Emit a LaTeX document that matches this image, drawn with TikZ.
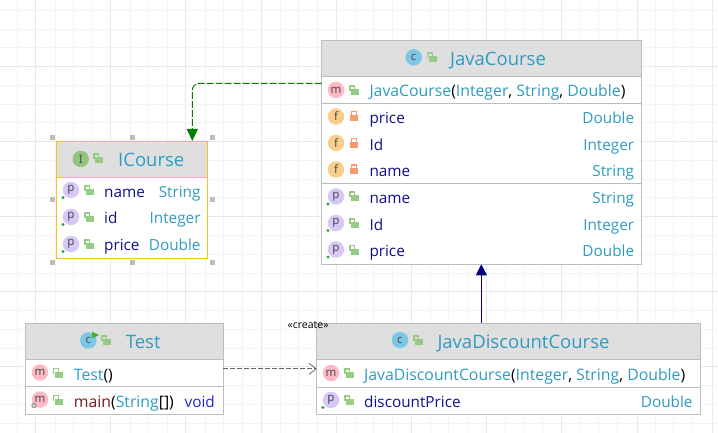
\documentclass[tikz,border=0pt]{standalone}
\usepackage{fontspec}
\setmainfont{Open Sans}
\newfontfamily\iconfont{Noto Sans}
\usetikzlibrary{arrows.meta}

\definecolor{gridmajor}{HTML}{E8E8E8}
\definecolor{gridminor}{HTML}{F4F4F4}
\definecolor{headgray}{HTML}{DFDFDF}
\definecolor{boxgray}{HTML}{BDBDBD}
\definecolor{boxyellow}{HTML}{F5C518}
\definecolor{typeblue}{HTML}{2E9BC2}
\definecolor{fieldnavy}{HTML}{10108C}
\definecolor{mainred}{HTML}{7A1A1A}
\definecolor{voidblue}{HTML}{2222DD}
\definecolor{ballm}{HTML}{FFB8C6}
\definecolor{ballf}{HTML}{F9CE8A}
\definecolor{ballp}{HTML}{D8C8F8}
\definecolor{ballc}{HTML}{7CC8E4}
\definecolor{balli}{HTML}{93C47D}
\definecolor{lockgreen}{HTML}{95CB82}
\definecolor{lockorange}{HTML}{F79B6E}
\definecolor{dotgreen}{HTML}{2E9E2E}
\definecolor{implgreen}{HTML}{008000}
\definecolor{extnavy}{HTML}{000080}
\definecolor{usegray}{HTML}{666666}

\tikzset{
    classbox/.style={draw=boxgray, line width=1pt, fill=white, anchor=north west, inner sep=0pt, outer sep=0pt},
    iconball/.style={circle, minimum size=16.5pt, inner sep=0pt, text=black!70, font=\iconfont\fontsize{11.5}{11.5}\selectfont},
    headtitle/.style={anchor=base west, inner sep=0pt, yshift=-1.2pt, text=typeblue, font=\fontsize{18.5}{20}\selectfont},
    rowleft/.style={anchor=base west, inner sep=0pt, yshift=-0.8pt, text=fieldnavy, font=\fontsize{15.3}{17}\selectfont},
    rowright/.style={anchor=base east, inner sep=0pt, yshift=-0.8pt, text=typeblue, font=\fontsize{15.3}{17}\selectfont},
    rowcall/.style={rowleft, font=\fontsize{15.8}{17}\selectfont},
    handlebox/.style={fill=boxgray, draw=none, minimum size=5pt, inner sep=0pt}
}

\newcommand{\openlock}[2]{
    \draw [lockgreen, line width=1.2pt] (#1-4, #2+1) -- (#1-4, #2-4) -- (#1+0.5, #2-4) -- (#1+0.5, #2);
    \fill [lockgreen] (#1-3, #2-1) rectangle (#1+5, #2+5);
}
\newcommand{\closedlock}[2]{
    \draw [lockorange, line width=1.2pt] (#1-2.2, #2-1) -- (#1-2.2, #2-4.5) -- (#1+2.2, #2-4.5) -- (#1+2.2, #2-1);
    \fill [lockorange] (#1-4, #2-1) rectangle (#1+4, #2+5);
}
\newcommand{\propdot}[2]{
    \fill [dotgreen] (#1-8, #2+7.5) circle (1.6pt);
}

\begin{document}
\begin{tikzpicture}[x=1pt, y=-1pt]
    \useasboundingbox (0, 0) rectangle (718, 433);
    \fill [white] (0, 0) rectangle (718, 433);
    % Grid
    \foreach \gx in {-1.5, 17.2, 54.7, 73.5, 92.2, 129.7, 148.5, 167.2, 204.7, 223.5, 242.2, 279.7, 298.5, 317.2, 354.7, 373.5, 392.2, 429.7, 448.5, 467.2, 504.7, 523.5, 542.2, 579.7, 598.5, 617.2, 654.7, 673.5, 692.2}
        \draw [gridminor] (\gx, 0) -- (\gx, 433);
    \foreach \gy in {10.2, 29, 47.7, 85.2, 104, 122.7, 160.2, 179, 197.7, 235.2, 254, 272.7, 310.2, 329, 347.7, 385.2, 404, 422.7}
        \draw [gridminor] (0, \gy) -- (718, \gy);
    \foreach \gx in {35.5, 110.5, 185.5, 261, 336, 411.5, 486.5, 561.5, 637, 712}
        \draw [gridmajor] (\gx, 0) -- (\gx, 433);
    \foreach \gy in {66.5, 141.5, 216.5, 291.5, 366.5}
        \draw [gridmajor] (0, \gy) -- (718, \gy);

    % Selection handles of ICourse
    \foreach \hname/\hx/\hy in {ha/52.5/137.5, hb/132/137.5, hc/212.5/137.5, hd/52.5/200, he/212.5/200, hf/52.5/262, hg/132/262, hh/212.5/262}
        \node [handlebox] (\hname) at (\hx, \hy) {};

    % ICourse
    \node [classbox, draw=boxyellow, minimum width=150.6pt, minimum height=117pt] (icourse) at (56.7, 141.3) {};
    \fill [headgray] (57.2, 141.8) rectangle (206.8, 177.3);
    \draw [boxyellow] (56.7, 177.3) -- (207.3, 177.3);
    \node [iconball, fill=balli] (icourseicon) at (80.7, 159) {I};
    \openlock{98}{158}
    \node [headtitle] (icoursetitle) at (118, 165.5) {ICourse};
    \node [iconball, fill=ballp] (irowa) at (71, 190) {p};
    \propdot{71}{190}
    \openlock{89}{190}
    \node [rowleft] (inamel) at (104, 197) {name};
    \node [rowright] (inamer) at (200.7, 197) {String};
    \node [iconball, fill=ballp] (irowb) at (71, 217) {p};
    \propdot{71}{217}
    \openlock{89}{217}
    \node [rowleft] (iidl) at (104, 223) {id};
    \node [rowright] (iidr) at (200.7, 223) {Integer};
    \node [iconball, fill=ballp] (irowc) at (71, 244) {p};
    \propdot{71}{244}
    \openlock{89}{244}
    \node [rowleft] (ipricel) at (104, 250) {price};
    \node [rowright] (ipricer) at (200.7, 250) {Double};

    % JavaCourse
    \node [classbox, minimum width=319.3pt, minimum height=223.6pt] (javacourse) at (321.7, 40.7) {};
    \fill [headgray] (322.2, 41.2) rectangle (640.5, 76);
    \draw [boxgray] (321.7, 76.3) -- (641, 76.3);
    \draw [boxgray] (321.7, 103.3) -- (641, 103.3);
    \draw [boxgray] (321.7, 183.3) -- (641, 183.3);
    \node [iconball, fill=ballc] (jcicon) at (413.7, 57.3) {c};
    \openlock{431.7}{57}
    \node [headtitle] (jctitle) at (450, 64) {JavaCourse};
    \node [iconball, fill=ballm] (jcrowa) at (336, 90) {m};
    \openlock{354}{90}
    \node [rowcall, text=typeblue] (jcctor) at (369.3, 96) {JavaCourse\textcolor{black}{(}Integer\textcolor{black}{,} String\textcolor{black}{,} Double\textcolor{black}{)}};
    \node [iconball, fill=ballf] (jcrowb) at (336, 116.5) {f};
    \closedlock{354}{116}
    \node [rowleft] (jcpricel) at (369.3, 123) {price};
    \node [rowright] (jcpricer) at (634.3, 123) {Double};
    \node [iconball, fill=ballf] (jcrowc) at (336, 143) {f};
    \closedlock{354}{143}
    \node [rowleft] (jcidl) at (369.3, 149.5) {Id};
    \node [rowright] (jcidr) at (634.3, 149.5) {Integer};
    \node [iconball, fill=ballf] (jcrowd) at (336, 169.5) {f};
    \closedlock{354}{169.5}
    \node [rowleft] (jcnamel) at (369.3, 176) {name};
    \node [rowright] (jcnamer) at (634.3, 176) {String};
    \node [iconball, fill=ballp] (jcrowe) at (336, 196.5) {p};
    \propdot{336}{196.5}
    \openlock{354}{196}
    \node [rowleft] (jcname) at (369.3, 203) {name};
    \node [rowright] (jcnamet) at (634.3, 203) {String};
    \node [iconball, fill=ballp] (jcrowf) at (336, 223) {p};
    \propdot{336}{223}
    \openlock{354}{223}
    \node [rowleft] (jcid) at (369.3, 229.5) {Id};
    \node [rowright] (jcidt) at (634.3, 229.5) {Integer};
    \node [iconball, fill=ballp] (jcrowg) at (336, 249.5) {p};
    \propdot{336}{249.5}
    \openlock{354}{249.5}
    \node [rowleft] (jcprice) at (369.3, 256) {price};
    \node [rowright] (jcpricet) at (634.3, 256) {Double};

    % Test
    \node [classbox, minimum width=198pt, minimum height=91pt] (test) at (25.3, 323.3) {};
    \fill [headgray] (25.8, 323.8) rectangle (222.8, 359.3);
    \draw [boxgray] (25.3, 359.5) -- (223.3, 359.5);
    \draw [boxgray] (25.3, 386.5) -- (223.3, 386.5);
    \node [iconball, fill=ballc] (testicon) at (88.3, 340.5) {c};
    \fill [dotgreen!80!lime] (92, 331.5) -- (99, 335) -- (92, 338.5) -- cycle;
    \openlock{106}{340}
    \node [headtitle] (testtitle) at (125.7, 347) {Test};
    \node [iconball, fill=ballm] (testrowa) at (40, 372.5) {m};
    \openlock{57.7}{372.5}
    \node [rowcall, text=typeblue] (testctor) at (73.7, 379.5) {Test\textcolor{black}{()}};
    \node [iconball, fill=ballm] (testrowb) at (40, 399.5) {m};
    \draw [gray!80, line width=1.3pt] (34, 405.5) circle (2pt);
    \openlock{57.7}{399.5}
    \node [rowcall, text=mainred] (testmain) at (73.7, 406.5) {main\textcolor{black}{(}\textcolor{typeblue}{String}\textcolor{black}{[])}};
    \node [rowright, text=voidblue] (testvoid) at (215, 406.5) {void};

    % JavaDiscountCourse
    \node [classbox, minimum width=383.3pt, minimum height=91pt] (discount) at (316.7, 323.3) {};
    \fill [headgray] (317.2, 323.8) rectangle (699.5, 359.3);
    \draw [boxgray] (316.7, 359.5) -- (700, 359.5);
    \draw [boxgray] (316.7, 386.7) -- (700, 386.7);
    \node [iconball, fill=ballc] (dcicon) at (400, 340) {c};
    \openlock{418}{340}
    \node [headtitle] (dctitle) at (437.3, 347) {JavaDiscountCourse};
    \node [iconball, fill=ballm] (dcrowa) at (331, 373) {m};
    \openlock{349}{373}
    \node [rowcall, text=typeblue] (dcctor) at (364, 379.5) {JavaDiscountCourse\textcolor{black}{(}Integer\textcolor{black}{,} String\textcolor{black}{,} Double\textcolor{black}{)}};
    \node [iconball, fill=ballp] (dcrowb) at (331, 400) {p};
    \propdot{331}{400}
    \openlock{349}{400}
    \node [rowleft] (dcpricel) at (364, 406.5) {discountPrice};
    \node [rowright] (dcpricer) at (692.7, 406.5) {Double};

    % Connectors
    \coordinate (implstart) at (321.7, 83.3);
    \coordinate (impltip) at (192.3, 141);
    \draw [implgreen, line width=1pt, dash pattern=on 7pt off 2pt, rounded corners=7pt, -{Triangle[length=12pt, width=11pt]}] (implstart) -| (impltip);
    \draw [extnavy, line width=1pt, -{Triangle[length=11pt, width=11pt]}] (javacourse.south |- discount.north) -- (javacourse.south);
    \draw [usegray, line width=0.8pt, dash pattern=on 5pt off 2pt, -{Straight Barb[length=7pt, width=11pt]}] (test.east) -- (discount.west);
    \node [anchor=base west, inner sep=0pt, font=\fontsize{10.5}{10.5}\selectfont] (createlabel) at (287.5, 328) {«create»};
\end{tikzpicture}
\end{document}
